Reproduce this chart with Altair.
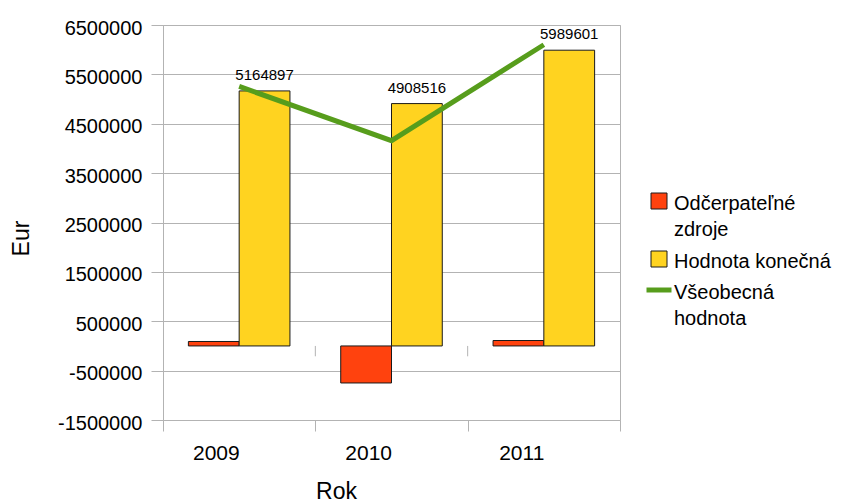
import altair as alt
import pandas as pd

# Values per year (EUR)
years = ["2009", "2010", "2011"]
odcerpatelne_zdroje = [90000, -750000, 110000]
hodnota_konecna = [5164897, 4908516, 5989601]
vseobecna_hodnota = [5255000, 4158000, 6100000]

bar_series = ["Odčerpateľné zdroje", "Hodnota konečná"]
line_series = ["Všeobecná hodnota"]
bar_colors = ["#ff420e", "#ffd320"]
line_colors = ["#579d1c"]

y_ticks = list(range(-1500000, 6500001, 500000))

bars_df = pd.DataFrame(
    {
        "Rok": years * 2,
        "séria": [bar_series[0]] * 3 + [bar_series[1]] * 3,
        "hodnota": odcerpatelne_zdroje + hodnota_konecna,
    }
)
line_df = pd.DataFrame(
    {"Rok": years, "séria": line_series * 3, "hodnota": vseobecna_hodnota}
)
label_df = pd.DataFrame(
    {"Rok": years, "séria": [bar_series[1]] * 3, "hodnota": hodnota_konecna}
)
zero_tick_df = pd.DataFrame({"Rok": years[1:]})

FONT = "Liberation Sans"
GRID = "#b3b3b3"

x_scale = alt.Scale(domain=years, paddingInner=0, paddingOuter=0)
y_scale = alt.Scale(domain=[-1500000, 6500000], nice=False, zero=False)
offset_scale = alt.Scale(domain=bar_series, paddingInner=0, paddingOuter=0.5)

x_axis = alt.Axis(
    title="Rok",
    labelAngle=0,
    grid=False,
    domain=False,
    ticks=True,
    tickBand="extent",
    tickSize=11,
    tickColor=GRID,
    labelFont=FONT,
    labelFontSize=21,
    labelColor="#000000",
    labelPadding=19,
    titleFont=FONT,
    titleFontSize=23,
    titleFontWeight="normal",
    titleColor="#000000",
    titleAnchor="start",
    titleAlign="center",
    titleBaseline="alphabetic",
    titleX=173,
    titleY=78,
)

y_axis = alt.Axis(
    title="Eur",
    values=y_ticks,
    labelExpr="datum.value % 1000000 == 0 ? '' : '' + datum.value",
    grid=True,
    gridColor=GRID,
    domain=True,
    domainColor=GRID,
    tickSize=12,
    tickColor=GRID,
    labelFont=FONT,
    labelFontSize=20,
    labelColor="#000000",
    labelPadding=9,
    titleFont=FONT,
    titleFontSize=23,
    titleFontWeight="normal",
    titleColor="#000000",
    titleAngle=270,
    titleAlign="center",
    titleBaseline="alphabetic",
    titleX=-135,
    titleY=213,
)

bars = (
    alt.Chart(bars_df)
    .mark_bar(stroke="#1a1a1a", strokeWidth=1)
    .encode(
        x=alt.X("Rok:N", scale=x_scale, axis=x_axis),
        xOffset=alt.XOffset("séria:N", scale=offset_scale),
        y=alt.Y("hodnota:Q", scale=y_scale, axis=y_axis),
        fill=alt.Fill(
            "séria:N",
            scale=alt.Scale(domain=bar_series, range=bar_colors),
            legend=alt.Legend(
                title=None,
                orient="none",
                legendX=486,
                legendY=166,
                padding=0,
                symbolType="square",
                symbolSize=256,
                symbolStrokeColor="#1a1a1a",
                symbolStrokeWidth=1,
                labelFont=FONT,
                labelFontSize=20,
                labelColor="#000000",
                labelOffset=5,
                labelBaseline="middle",
                labelLimit=300,
                rowPadding=9,
                labelExpr="datum.label == 'Odčerpateľné zdroje' ? ['Odčerpateľné', 'zdroje'] : datum.label",
            ),
        ),
        order=alt.Order("séria:N"),
    )
)

zero_ticks = (
    alt.Chart(zero_tick_df)
    .mark_rule(color=GRID, strokeWidth=1)
    .encode(
        x=alt.X("Rok:N", bandPosition=0),
        y=alt.datum(0),
        y2=alt.datum(-210000),
    )
)

line = (
    alt.Chart(line_df)
    .mark_line(strokeWidth=5)
    .encode(
        x=alt.X("Rok:N"),
        y=alt.Y("hodnota:Q"),
        stroke=alt.Stroke(
            "séria:N",
            scale=alt.Scale(domain=line_series, range=line_colors),
            legend=alt.Legend(
                title=None,
                orient="none",
                legendX=481,
                legendY=250,
                padding=0,
                symbolType="stroke",
                symbolSize=625,
                symbolStrokeWidth=5,
                labelFont=FONT,
                labelFontSize=20,
                labelColor="#000000",
                labelOffset=0,
                labelBaseline="middle",
                labelLimit=300,
                labelExpr="datum.label == 'Všeobecná hodnota' ? ['Všeobecná', 'hodnota'] : datum.label",
            ),
        ),
    )
)

labels = (
    alt.Chart(label_df)
    .mark_text(font=FONT, fontSize=15, color="#000000", baseline="alphabetic", dy=-11)
    .encode(
        x=alt.X("Rok:N"),
        xOffset=alt.XOffset("séria:N", scale=offset_scale),
        y=alt.Y("hodnota:Q"),
        text=alt.Text("hodnota:Q", format="d"),
    )
)

chart = (
    alt.layer(zero_ticks, bars, line, labels)
    .properties(
        width=457,
        height=395,
        padding={"left": 163, "top": 25, "right": 224, "bottom": 82},
        autosize=alt.AutoSizeParams(type="none"),
        background="#ffffff",
    )
    .configure(
        style={"guide-label": {"lineHeight": 26, "dy": 3}},
        view=alt.ViewConfig(stroke=GRID, strokeWidth=1),
    )
)

chart.save("out.html", embed_options={"renderer": "svg", "actions": False})
